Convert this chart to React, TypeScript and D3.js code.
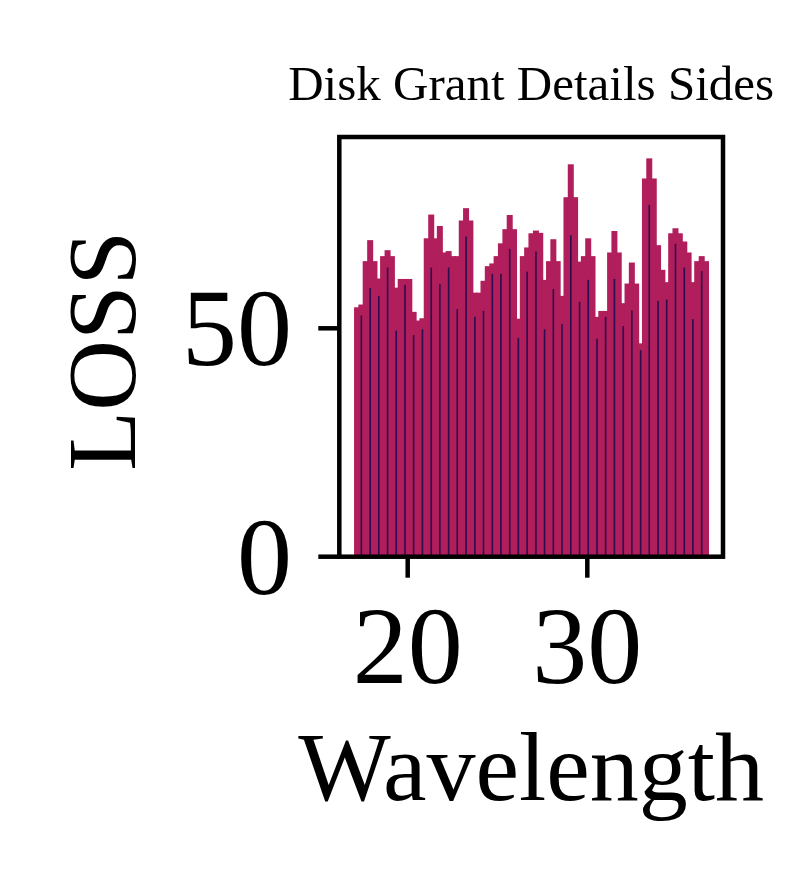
import React from "react";
import * as d3 from "d3";

const title = "Disk Grant Details Sides";
const xLabel = "Wavelength";
const yLabel = "LOSS";
const xTicks = [20, 30];
const yTicks = [0, 50];

const wavelength = [
  17.18, 17.42, 17.66, 17.91, 18.15, 18.39, 18.63, 18.88, 19.12, 19.36,
  19.61, 19.85, 20.09, 20.33, 20.58, 20.82, 21.06, 21.31, 21.55, 21.79,
  22.04, 22.28, 22.52, 22.76, 23.01, 23.25, 23.49, 23.74, 23.98, 24.22,
  24.46, 24.71, 24.95, 25.19, 25.44, 25.68, 25.92, 26.16, 26.41, 26.65,
  26.89, 27.14, 27.38, 27.62, 27.87, 28.11, 28.35, 28.59, 28.84, 29.08,
  29.32, 29.57, 29.81, 30.05, 30.29, 30.54, 30.78, 31.02, 31.27, 31.51,
  31.75, 32.0, 32.24, 32.48, 32.72, 32.97, 33.21, 33.45, 33.7, 33.94,
  34.18, 34.42, 34.67, 34.91, 35.15, 35.4, 35.64, 35.88, 36.12, 36.37,
  36.61,
];

const loss = [
  54.6, 55.2, 64.7, 69.3, 64.7, 60.9, 65.8, 67.1, 65.8, 58.9,
  60.8, 60.8, 60.8, 53.6, 51.7, 52.2, 69.7, 74.9, 69.7, 72.4,
  66.6, 66.9, 65.8, 65.8, 73.6, 76.3, 73.6, 57.8, 57.8, 60.4,
  63.6, 64.2, 65.8, 68.6, 71.7, 74.8, 71.7, 52.1, 65.8, 67.7,
  70.8, 71.4, 70.9, 60.6, 64.7, 69.5, 64.7, 57.1, 78.7, 85.9,
  78.7, 64.6, 65.8, 69.7, 65.8, 52.5, 53.8, 53.8, 66.6, 71.3,
  66.6, 55.5, 59.8, 64.4, 59.8, 46.7, 82.8, 87.2, 82.8, 68.2,
  62.8, 60.1, 70.8, 71.9, 70.8, 69.0, 66.6, 60.1, 64.7, 65.8,
  64.7,
];

const innerWavelength = [
  17.42, 17.91, 18.39, 18.88, 19.36, 19.85, 20.33, 20.82, 21.31, 21.79,
  22.28, 22.76, 23.25, 23.74, 24.22, 24.71, 25.19, 25.68, 26.16, 26.65,
  27.14, 27.62, 28.11, 28.59, 29.08, 29.57, 30.05, 30.54, 31.02, 31.51,
  32.0, 32.48, 32.97, 33.45, 33.94, 34.42, 34.91, 35.4, 35.88, 36.37,
];

const innerLoss = [
  52.8, 58.8, 57.1, 63.3, 49.5, 59.5, 48.5, 49.8, 63.3, 59.7,
  63.3, 54.2, 70.1, 52.5, 53.8, 61.9, 61.9, 67.4, 47.9, 62.4,
  66.8, 49.8, 58.6, 50.9, 70.4, 55.8, 60.6, 47.7, 52.5, 60.8,
  50.5, 53.9, 45.2, 77.0, 56.0, 56.3, 68.5, 63.3, 52.0, 62.5,
];

const W = 789;
const H = 886;
const left = 339.3;
const right = 723;
const top = 137;
const bottom = 556.7;

export default function App() {
  const x = d3.scaleLinear().domain([20, 30]).range([407.7, 587.3]);
  const y = d3.scaleLinear().domain([0, 50]).range([bottom, 328.3]);
  const barW = x(20.334) - x(20);
  const lineW = x(20.09) - x(20);
  const font = "'Liberation Serif', 'Times New Roman', serif";
  const crimson = "#B01E5B";
  const dark = "#2E0C4F";
  const sw = 4.5;

  return (
    <svg
      width={W}
      height={H}
      style={{ position: "absolute", left: 0, top: 0, display: "block", background: "#fff" }}
      fontFamily={font}
    >
      <rect x={0} y={0} width={W} height={H} fill="#fff" />
      <g>
        {wavelength.map((w, i) => (
          <rect
            key={"b" + i}
            x={x(w) - barW / 2}
            y={y(loss[i])}
            width={barW}
            height={y(0) - y(loss[i])}
            fill={crimson}
          />
        ))}
        {innerWavelength.map((w, i) => (
          <rect
            key={"d" + i}
            x={x(w) - lineW / 2}
            y={y(innerLoss[i])}
            width={lineW}
            height={y(0) - y(innerLoss[i])}
            fill={dark}
          />
        ))}
      </g>
      <rect
        x={left}
        y={top}
        width={right - left}
        height={bottom - top}
        fill="none"
        stroke="#000"
        strokeWidth={sw}
      />
      {yTicks.map((t) => (
        <g key={"yt" + t}>
          <line x1={left - 21} x2={left} y1={y(t)} y2={y(t)} stroke="#000" strokeWidth={sw} />
          <text x={292} y={y(t) + 37} fontSize={110} textAnchor="end" fill="#000">
            {t}
          </text>
        </g>
      ))}
      {xTicks.map((t) => (
        <g key={"xt" + t}>
          <line x1={x(t)} x2={x(t)} y1={bottom} y2={bottom + 21} stroke="#000" strokeWidth={sw} />
          <text x={x(t)} y={683} fontSize={110} textAnchor="middle" fill="#000">
            {t}
          </text>
        </g>
      ))}
      <text x={(left + right) / 2} y={800} fontSize={98} textAnchor="middle" fill="#000">
        {xLabel}
      </text>
      <text
        transform={`translate(135, ${(top + bottom) / 2 + 4}) rotate(-90)`}
        fontSize={98}
        textAnchor="middle"
        fill="#000"
      >
        {yLabel}
      </text>
      <text x={(left + right) / 2} y={100} fontSize={49} textAnchor="middle" fill="#000">
        {title}
      </text>
    </svg>
  );
}
